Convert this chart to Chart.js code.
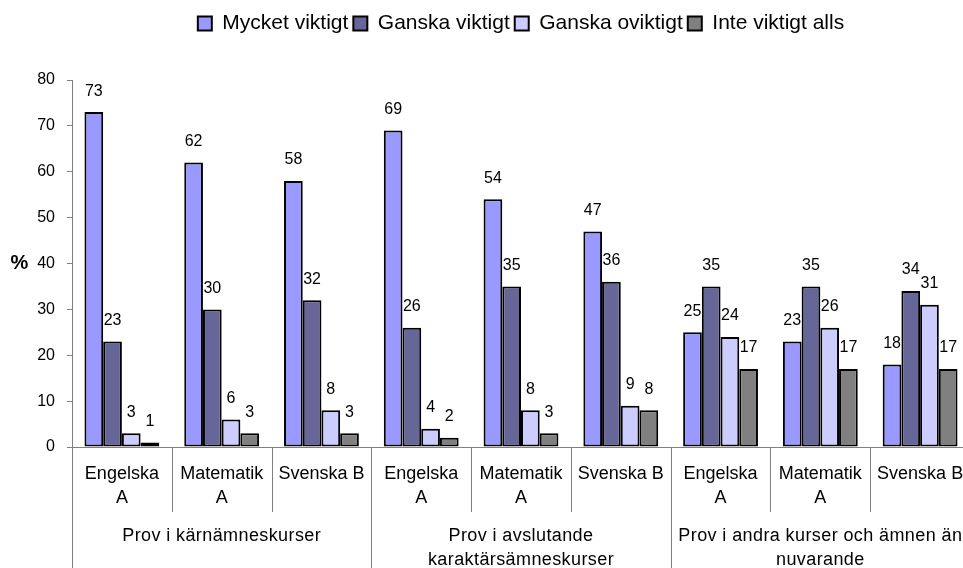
<!DOCTYPE html>
<html>
<head>
<meta charset="utf-8">
<script src="https://cdn.jsdelivr.net/npm/chart.js@4.4.1/dist/chart.umd.min.js"></script>
<style>
  html, body { margin: 0; padding: 0; background: #fff; overflow: hidden; width: 963px; height: 568px; }
  #wrap { position: relative; width: 980px; height: 568px; }
</style>
</head>
<body>
<div id="wrap"><canvas id="chart"></canvas></div>
<script>
// Courses (first label row) and the course groups (second label row)
const courses = [
  ["Engelska", "A"], ["Matematik", "A"], ["Svenska B"],
  ["Engelska", "A"], ["Matematik", "A"], ["Svenska B"],
  ["Engelska", "A"], ["Matematik", "A"], ["Svenska B"]
];
const courseGroups = [
  ["Prov i kärnämneskurser"],
  ["Prov i avslutande", "karaktärsämneskurser"],
  ["Prov i andra kurser och ämnen än", "nuvarande"]
];
const coursesPerGroup = 3;

// Answer shares, %
const seriesNames = ["Mycket viktigt", "Ganska viktigt", "Ganska oviktigt", "Inte viktigt alls"];
const mycketViktigt  = [73, 62, 58, 69, 54, 47, 25, 23, 18];
const ganskaViktigt  = [23, 30, 32, 26, 35, 36, 35, 35, 34];
const ganskaOviktigt = [3, 6, 8, 4, 8, 9, 24, 26, 31];
const inteViktigt    = [1, 3, 3, 2, 3, 8, 17, 17, 17];

const yMin = 0, yMax = 80, yStep = 10;
const yAxisTitle = "%";

const colors = ["#9999FF", "#666699", "#CCCCFF", "#808080"];
const axisGray = "#808080";
const FONT = "'Liberation Sans', Arial, sans-serif";

const seriesValues = [mycketViktigt, ganskaViktigt, ganskaOviktigt, inteViktigt];

// Value labels above each bar
const valueLabels = {
  id: "valueLabels",
  afterDatasetsDraw(chart) {
    const ctx = chart.ctx;
    ctx.save();
    ctx.font = "16px " + FONT;
    ctx.fillStyle = "#000";
    ctx.textAlign = "center";
    ctx.textBaseline = "middle";
    chart.data.datasets.forEach((ds, di) => {
      chart.getDatasetMeta(di).data.forEach((bar, i) => {
        ctx.fillText(String(ds.data[i]), bar.x, bar.y - 21);
      });
    });
    ctx.restore();
  }
};

// Two-row category axis: course labels, group labels and separators
const groupedAxis = {
  id: "groupedAxis",
  afterDraw(chart) {
    const ctx = chart.ctx;
    const x = chart.scales.x;
    const bottom = chart.chartArea.bottom;
    const h = chart.height;
    ctx.save();
    ctx.strokeStyle = axisGray;
    ctx.lineWidth = 1;
    for (let i = 0; i <= courses.length; i++) {
      const px = Math.round(x.getPixelForValue(i - 0.5)) + 0.5;
      const end = (i % coursesPerGroup === 0) ? h : bottom + 65;
      ctx.beginPath();
      ctx.moveTo(px, bottom);
      ctx.lineTo(px, end);
      ctx.stroke();
    }
    ctx.fillStyle = "#000";
    ctx.textAlign = "center";
    ctx.textBaseline = "middle";
    ctx.font = "18px " + FONT;
    courses.forEach((lines, i) => {
      const cx = x.getPixelForValue(i);
      lines.forEach((t, li) => ctx.fillText(t, cx, bottom + 27 + li * 24));
    });
    ctx.letterSpacing = "0.4px";
    courseGroups.forEach((lines, g) => {
      const first = g * coursesPerGroup;
      const last = first + coursesPerGroup - 1;
      const cx = (x.getPixelForValue(first - 0.5) + x.getPixelForValue(last + 0.5)) / 2;
      lines.forEach((t, li) => ctx.fillText(t, cx, bottom + 89 + li * 24));
    });
    ctx.letterSpacing = "0px";
    // horizontal "%" title beside the value axis
    ctx.font = "bold 20px " + FONT;
    const y = chart.scales.y;
    ctx.fillText(yAxisTitle, 19.5, y.getPixelForValue(40));
    ctx.restore();
  }
};

// Space between the legend row and the plot
const legendBand = {
  id: "legendBand",
  beforeLayout(chart) {
    const lg = chart.legend;
    if (lg && !lg._banded) {
      const fit = lg.fit;
      lg.fit = function () { fit.call(this); this.height = 72; };
      lg._banded = true;
    }
  }
};

new Chart(document.getElementById("chart"), {
  type: "bar",
  data: {
    labels: courses,
    datasets: seriesNames.map((name, i) => ({
      label: name,
      data: seriesValues[i],
      backgroundColor: colors[i],
      borderColor: "#000",
      borderWidth: 2,
      borderSkipped: false,
      categoryPercentage: 0.75,
      barPercentage: 1.0
    }))
  },
  options: {
    responsive: true,
    maintainAspectRatio: false,
    animation: false,
    layout: { padding: { top: 8, right: 10, bottom: 0, left: 0 } },
    plugins: {
      legend: {
        position: "top",
        fullSize: false,
        labels: {
          boxWidth: 14,
          boxHeight: 14,
          padding: 5,
          color: "#000",
          font: { family: FONT, size: 21 }
        }
      },
      tooltip: { enabled: false }
    },
    scales: {
      x: {
        ticks: { display: false },
        grid: { display: false },
        border: { display: true, color: axisGray, width: 1 },
        afterFit(s) { s.height = 121; }
      },
      y: {
        min: yMin,
        max: yMax,
        ticks: {
          stepSize: yStep,
          padding: 12,
          color: "#000",
          font: { family: FONT, size: 16 }
        },
        grid: { drawOnChartArea: false, tickLength: 5, color: axisGray },
        border: { display: true, color: axisGray, width: 1 },
        afterFit(s) { s.width = 72; }
      }
    }
  },
  plugins: [legendBand, valueLabels, groupedAxis]
});
</script>
</body>
</html>
